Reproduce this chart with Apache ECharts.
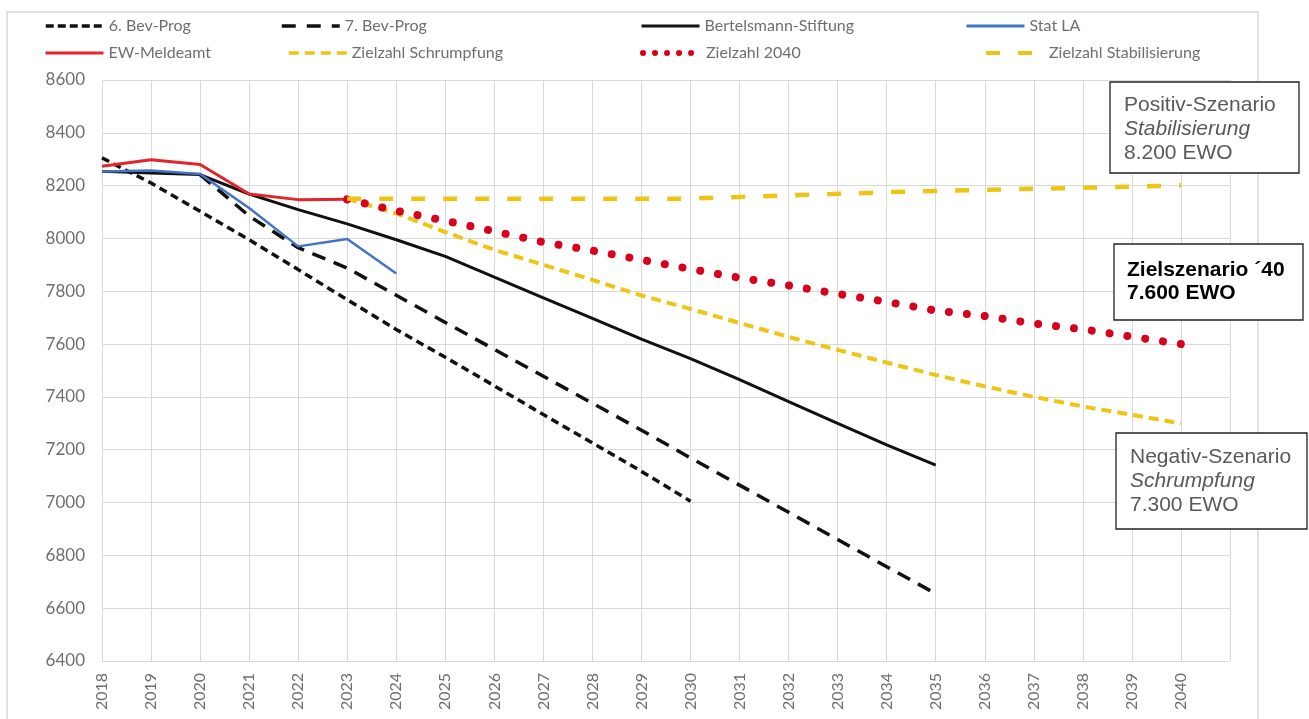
<!DOCTYPE html>
<html>
<head>
<meta charset="utf-8">
<script src="https://cdn.jsdelivr.net/npm/echarts@6/dist/echarts.min.js"></script>
<style>html,body{margin:0;padding:0;background:#fff;}#c{width:1309px;height:719px;}</style>
</head>
<body>
<div id="c"></div>
<script>
// ---- data ----
const xTickLabels = ['2018','2019','2020','2021','2022','2023','2024','2025','2026','2027','2028','2029','2030','2031','2032','2033','2034','2035','2036','2037','2038','2039','2040'];
const yTickLabels = [6400,6600,6800,7000,7200,7400,7600,7800,8000,8200,8400,8600];

const seriesNames = ['6. Bev-Prog','7. Bev-Prog','Bertelsmann-Stiftung','Stat LA','EW-Meldeamt','Zielzahl Schrumpfung','Zielzahl 2040','Zielzahl Stabilisierung'];

const bev6Years = [2018,2019,2020,2021,2022,2023,2024,2025,2026,2027,2028,2029,2030];
const bev6Values = [8305,8210,8103,7995,7882,7768,7655,7550,7442,7333,7226,7118,7005];

const bev7Years = [2020,2021,2022,2023,2024,2025,2026,2027,2028,2029,2030,2031,2032,2033,2034,2035];
const bev7Values = [8242,8085,7965,7888,7785,7682,7580,7478,7376,7274,7169,7066,6963,6860,6757,6655];

const bertYears = [2018,2019,2020,2021,2022,2023,2024,2025,2026,2027,2028,2029,2030,2031,2032,2033,2034,2035];
const bertValues = [8254,8248,8242,8168,8109,8055,7995,7932,7854,7775,7697,7619,7545,7465,7382,7300,7218,7142];

const statYears = [2018,2019,2020,2021,2022,2023,2024];
const statValues = [8254,8257,8244,8115,7970,7998,7867];

const ewYears = [2018,2019,2020,2021,2022,2023];
const ewValues = [8273,8298,8280,8168,8147,8148];

const schrYears = [2023,2024,2025,2026,2027,2028,2029,2030,2031,2032,2033,2034,2035,2036,2037,2038,2039,2040];
const schrValues = [8150,8095,8024,7957,7900,7843,7784,7733,7680,7627,7578,7530,7483,7440,7400,7364,7332,7300];

const ziel40Years = [2023,2024,2025,2026,2027,2028,2029,2030,2031,2032,2033,2034,2035,2036,2037,2038,2039,2040];
const ziel40Values = [8148,8105,8067,8027,7986,7954,7919,7884,7851,7822,7790,7760,7727,7706,7678,7656,7628,7600];

const stabYears = [2023,2024,2025,2026,2027,2028,2029,2030,2031,2032,2033,2034,2035,2036,2037,2038,2039,2040];
const stabValues = [8150,8150,8150,8150,8150,8150,8150,8151,8157,8163,8169,8175,8180,8184,8188,8192,8196,8201];

// ---- build ----
function pairs(xs, ys){ return xs.map((x,i)=>[x, ys[i]]); }
const gridCol = '#d9d9d9';
const txtCol = '#6f6f6f';
const fam = 'Lato, "Open Sans", sans-serif';

const styles = [
  {color:'#111', width:3.5, type:[8,5]},
  {color:'#111', width:3.5, type:[14,9]},
  {color:'#111', width:3, type:'solid'},
  {color:'#4472C4', width:2.5, type:'solid'},
  {color:'#E3242B', width:3, type:'solid'},
  {color:'#EEC514', width:4, type:[10,6]},
  {color:'#D9001B', width:8, type:[0.01,18], cap:'round'},
  {color:'#EEC514', width:4.5, type:[14,18]}
];
const legendLine = [
  {width:3.5, type:[8,4]},
  {width:3.5, type:[14,11]},
  {width:3, type:'solid'},
  {width:3, type:'solid'},
  {width:3, type:'solid'},
  {width:3.5, type:[10,6]},
  {width:6, type:[0.01,12], cap:'round'},
  {width:4, type:[14,18]}
];
const dataSets = [
  pairs(bev6Years,bev6Values), pairs(bev7Years,bev7Values), pairs(bertYears,bertValues),
  pairs(statYears,statValues), pairs(ewYears,ewValues), pairs(schrYears,schrValues),
  pairs(ziel40Years,ziel40Values), pairs(stabYears,stabValues)
];

const series = seriesNames.map((n,i)=>({
  name:n, type:'line', data:dataSets[i], symbol:'none', showSymbol:false, smooth:false,
  lineStyle:{color:styles[i].color, width:styles[i].width, type:styles[i].type, cap:styles[i].cap||'butt'},
  itemStyle:{color:styles[i].color},
  emphasis:{disabled:true}, silent:true, animation:false, z:2+i
}));

// legend placements: 4 columns x 2 rows
const legendPos = [[44,18],[280,18],[640,18],[965,18],[44,45],[287,45],[640,45],[984,45]];
const legends = seriesNames.map((n,i)=>({
  data:[n], left:legendPos[i][0], top:legendPos[i][1], itemWidth:58, itemHeight:14, itemGap:5,
  selectedMode:false, itemStyle:{opacity:0, borderWidth:0},
  lineStyle:{color:styles[i].color, width:legendLine[i].width, type:legendLine[i].type, cap:legendLine[i].cap||'butt'},
  textStyle:{color:txtCol, fontSize:16, fontFamily:fam}, padding:0
}));

function box(x,y,w,h,lines,lx,ly,step,font,col){
  const els=[{type:'rect', shape:{x:x,y:y,width:w,height:h}, style:{fill:'#fff', stroke:'#222', lineWidth:1.3}, z:100}];
  lines.forEach((t,i)=>{
    els.push({type:'text', x:lx, y:ly+i*step, z:101, style:{text:t.text, fill:col, font:(t.italic?'italic ':'')+font, verticalAlign:'middle', align:'left'}});
  });
  return els;
}

const graphics = [
  {type:'rect', shape:{x:7,y:12,width:1251,height:720}, style:{fill:'none', stroke:'#d9d9d9', lineWidth:1.5}, z:0, silent:true}
].concat(
  box(1110,82,189,91,[{text:'Positiv-Szenario'},{text:'Stabilisierung',italic:true},{text:'8.200 EWO'}],1124,105,24,'21px "Liberation Sans", Arial, sans-serif','#595959'),
  box(1114,244,189,76,[{text:'Zielszenario ´40'},{text:'7.600 EWO'}],1127,270,23,'bold 21px "Liberation Sans", Arial, sans-serif','#000'),
  box(1116,433,191,96,[{text:'Negativ-Szenario'},{text:'Schrumpfung',italic:true},{text:'7.300 EWO'}],1130,457,24,'21px "Liberation Sans", Arial, sans-serif','#595959')
);

const chart = echarts.init(document.getElementById('c'), null, {renderer:'canvas'});
chart.setOption({
  backgroundColor:'#fff',
  animation:false,
  legend: legends,
  grid:{left:102, right:79, top:80, bottom:58, containLabel:false},
  xAxis:{
    type:'value', min:2018, max:2041, interval:1,
    axisLine:{show:false}, axisTick:{show:false},
    splitLine:{show:true, lineStyle:{color:gridCol, width:1}},
    axisLabel:{rotate:90, margin:12, color:txtCol, fontSize:16, fontFamily:fam,
      formatter:(v)=>{ const i=Math.round(v)-2018; return xTickLabels[i]!==undefined?xTickLabels[i]:''; }}
  },
  yAxis:{
    type:'value', min:yTickLabels[0], max:yTickLabels[yTickLabels.length-1], interval:200,
    axisLine:{show:false}, axisTick:{show:false},
    splitLine:{show:true, lineStyle:{color:gridCol, width:1}},
    axisLabel:{margin:17, color:txtCol, fontSize:17, fontFamily:fam, formatter:(v)=>String(v)}
  },
  series: series,
  graphic: graphics
});
</script>
</body>
</html>
